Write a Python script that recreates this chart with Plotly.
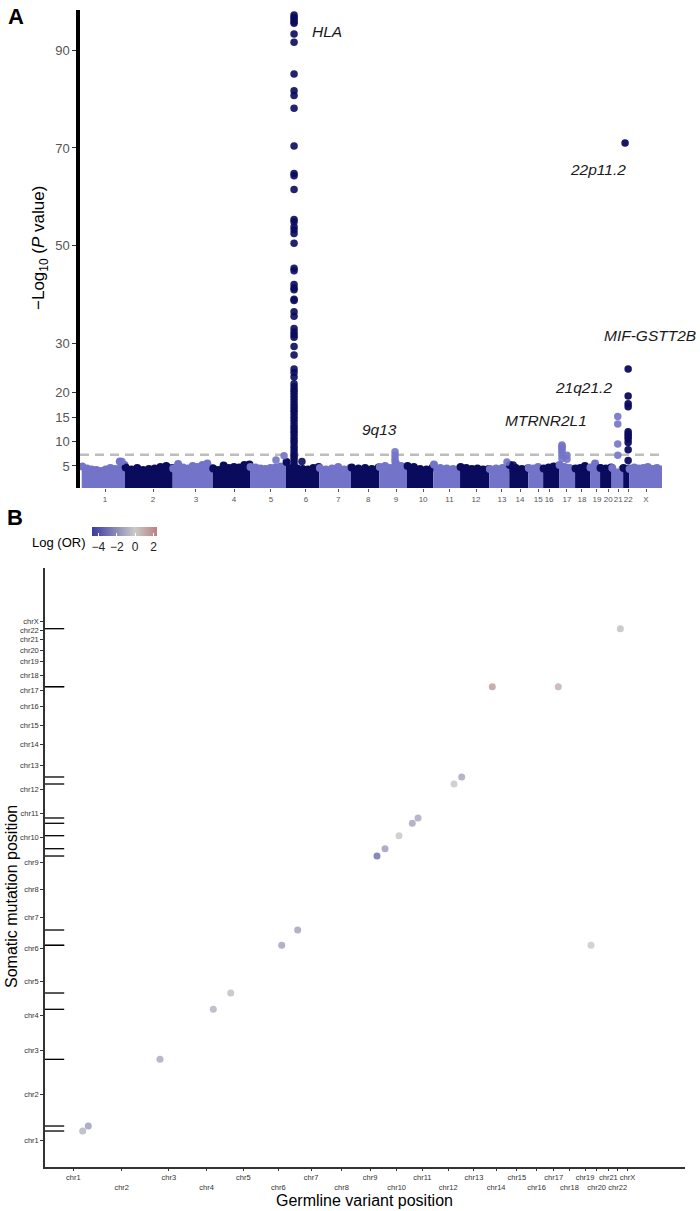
import numpy as np
import plotly.graph_objects as go

FONT = "Liberation Sans, Arial, Helvetica, sans-serif"
LIGHT = "#7373c9"
DARK = "#0b0b5d"

# ---------------- Panel A data (Manhattan) ----------------
chrom_labels_a = [str(i) for i in range(1, 23)] + ["X"]
# start of each chromosome block on the cumulative axis (arbitrary genome units)
chrom_starts = [9, 234, 482, 690, 884, 1071, 1244, 1409, 1556, 1700, 1837, 1976,
                2128, 2232, 2331, 2408, 2491, 2574, 2652, 2704, 2764, 2824, 2855]
genome_end = 3026
chrom_ticks_a = [130, 380, 603, 801, 993, 1175, 1342, 1498, 1643, 1784, 1921, 2059,
                 2194, 2288, 2382, 2439, 2532, 2610, 2688, 2746, 2798, 2850, 2943]

# upper envelope of the dense background of SNPs (-log10 P), per chromosome
env_1 = [4.9, 4.5, 4.3, 4.2, 4.0, 4.3, 4.6, 4.4, 5.9, 5.2]
env_2 = [4.7, 4.3, 4.6, 4.2, 4.4, 4.5, 4.8, 5.0, 4.6]
env_3 = [4.5, 5.4, 4.7, 4.5, 5.0, 4.8, 5.2, 5.5, 4.6]
env_4 = [4.5, 4.2, 5.1, 4.6, 4.8, 4.7, 5.2, 5.3]
env_5 = [4.8, 4.7, 4.5, 4.4, 4.6, 4.7, 4.9, 4.6]
env_6 = [5.8, 4.6, 4.5, 4.4, 4.3, 4.6, 4.8]
env_7 = [4.6, 4.3, 4.5, 4.8, 4.3, 4.6]
env_8 = [4.7, 4.5, 4.6, 4.4, 4.7]
env_9 = [4.8, 5.0, 4.6, 5.6, 5.0, 4.6]
env_10 = [5.0, 4.8, 4.4, 4.3, 4.7]
env_11 = [5.3, 4.6, 4.5, 4.4, 4.5]
env_12 = [4.8, 4.6, 4.4, 4.5, 4.3, 4.4]
env_13 = [4.4, 4.5, 4.6, 4.5]
env_14 = [5.2, 4.6, 4.4, 4.5]
env_15 = [4.6, 4.5, 4.8, 4.4]
env_16 = [4.5, 4.7, 4.9, 5.0]
env_17 = [5.2, 4.8, 4.6, 4.4]
env_18 = [4.5, 4.6, 5.0, 4.4]
env_19 = [4.7, 5.5, 4.6]
env_20 = [4.6, 4.5, 4.7]
env_21 = [4.6, 4.4]
env_22 = [4.6, 4.5]
env_X = [4.4, 4.7, 4.5, 4.6, 4.8, 4.4, 4.6, 4.3]
envelopes = [env_1, env_2, env_3, env_4, env_5, env_6, env_7, env_8, env_9, env_10,
             env_11, env_12, env_13, env_14, env_15, env_16, env_17, env_18, env_19,
             env_20, env_21, env_22, env_X]

# individually visible SNPs above the background
hla_pos = 1113
hla_logp = [97.2, 96.7, 96.3, 95.8, 95.5, 93.3, 91.6, 85.1, 81.7, 80.7, 78.1, 70.4,
            64.8, 64.3, 61.5, 55.4, 54.9, 53.9, 53.3, 52.5, 50.5, 45.4, 44.9, 42.1,
            41.4, 41.0, 39.1, 38.8, 36.5, 35.6, 33.1, 32.4, 31.8, 31.3, 29.4, 27.7,
            24.8, 24.1, 23.2, 21.8, 21.2, 20.6, 20.1, 19.5, 18.9, 18.3, 17.6, 17.0,
            16.4, 15.9, 15.2, 14.6, 14.0, 13.3, 12.7, 12.1, 11.6, 10.9, 10.3, 9.8,
            9.1, 8.5, 7.9, 7.3, 6.8, 6.2, 5.6, 5.0]
chr22_pos = [2834, 2850, 2850, 2850, 2850, 2850, 2850, 2850, 2850, 2850, 2850, 2850]
chr22_logp = [71.0, 24.8, 19.3, 17.7, 17.1, 12.0, 11.5, 11.0, 10.5, 9.8, 8.3, 6.1]
light_pos = [218, 1019, 1061, 1638, 1638, 1638, 1638, 2220, 2506, 2506, 2506, 2506,
             2506, 2506, 2506, 2532, 2532, 2796, 2796, 2796, 2796]
light_logp = [5.9, 6.2, 7.1, 7.9, 7.2, 6.5, 5.9, 5.8, 9.3, 9.0, 8.7, 8.3, 7.8, 7.2,
              6.5, 7.2, 6.4, 15.1, 13.6, 9.5, 7.2]
dark_pos = [1154, 2252]
dark_logp = [5.9, 5.2]
gw_threshold = 7.3

loci_names = ["HLA", "22p11.2", "9q13", "MTRNR2L1", "21q21.2", "MIF-GSTT2B"]
loci_pos = [1196, 2691, 1557, 2421, 2618, 2964]
loci_logp = [93.9, 65.7, 12.4, 14.2, 21.1, 31.6]

# ---------------- Panel B data ----------------
chrom_names_b = ["chr%d" % i for i in range(1, 23)] + ["chrX"]
chrom_mid_b = [124.6, 367.4, 604, 793, 977, 1153, 1317, 1470, 1613, 1746, 1875, 2005,
               2134, 2245, 2349, 2448, 2534, 2613, 2691, 2749, 2808, 2855, 2904]
germline_pos = [171.7, 199.8, 559.4, 826.7, 914.0, 1169.8, 1250.0, 1647.7, 1687.9,
                1758.1, 1824.8, 1853.4, 2033.9, 2072.5, 2226.0, 2557.0, 2721.0, 2868.0]
somatic_pos = [172.9, 199.7, 557.2, 825.3, 912.7, 1168.4, 1250.4, 1647.1, 1686.3,
               1756.0, 1822.5, 1850.9, 2033.1, 2070.7, 2554.8, 2554.8, 1168.4, 2865.7]
log_or = [-0.6, -1.35, -1.0, -0.7, -0.3, -1.25, -1.25, -2.8, -1.35, 0.05, -1.1, -1.0,
          -0.05, -1.1, 1.4, 0.8, 0.0, -0.3]

W, H = 700, 1211


def px_x(p):
    return p / W


def px_y(p):
    return 1 - p / H


fig = go.Figure()

# Panel A background blocks
for i, env in enumerate(envelopes):
    s = chrom_starts[i]
    e = chrom_starts[i + 1] if i + 1 < len(chrom_starts) else genome_end
    col = LIGHT if i % 2 == 0 else DARK
    xs = list(np.linspace(s + 0.12 * (e - s) / len(env), e - 0.12 * (e - s) / len(env), len(env)))
    px = [s] + xs + [e, e, s]
    py = [env[0]] + env + [env[-1], 0, 0]
    fig.add_trace(go.Scatter(x=px, y=py, mode="lines", fill="toself", fillcolor=col,
                             line=dict(color=col, width=0), hoverinfo="skip",
                             showlegend=False, xaxis="x", yaxis="y"))
    fig.add_trace(go.Scatter(x=xs, y=env, mode="markers",
                             marker=dict(color=col, size=8, line=dict(width=0)),
                             hoverinfo="skip", showlegend=False, xaxis="x", yaxis="y"))

fig.add_trace(go.Scatter(x=light_pos, y=light_logp, mode="markers",
                         marker=dict(color=LIGHT, size=7.5, opacity=0.9, line=dict(width=0)),
                         showlegend=False, xaxis="x", yaxis="y"))
fig.add_trace(go.Scatter(x=dark_pos, y=dark_logp, mode="markers",
                         marker=dict(color=DARK, size=7.5, opacity=0.9, line=dict(width=0)),
                         showlegend=False, xaxis="x", yaxis="y"))
fig.add_trace(go.Scatter(x=[hla_pos] * len(hla_logp), y=hla_logp, mode="markers",
                         marker=dict(color=DARK, size=7.5, opacity=0.9, line=dict(width=0)),
                         showlegend=False, xaxis="x", yaxis="y"))
fig.add_trace(go.Scatter(x=chr22_pos, y=chr22_logp, mode="markers",
                         marker=dict(color=DARK, size=7.5, opacity=0.95, line=dict(width=0)),
                         showlegend=False, xaxis="x", yaxis="y"))

# Panel B points
colorscale = [[0.0, "#3a3aa0"], [0.66, "#cacaca"], [1.0, "#bb8080"]]
fig.add_trace(go.Scatter(
    x=germline_pos, y=somatic_pos, mode="markers", xaxis="x2", yaxis="y2", showlegend=False,
    marker=dict(size=7, color=log_or, colorscale=colorscale, cmin=-4.65, cmax=2.4,
                opacity=0.85, line=dict(width=0), showscale=True,
                colorbar=dict(orientation="h", x=px_x(92.3), xanchor="left",
                              y=px_y(527), yanchor="top", lenmode="pixels", len=65.4,
                              thicknessmode="pixels", thickness=9, outlinewidth=0,
                              xpad=0, ypad=0, tickvals=[-4, -2, 0, 2],
                              ticktext=["\u22124", "\u22122", "0", "2"], ticks="inside",
                              tickcolor="white", ticklen=3, tickwidth=1,
                              tickfont=dict(size=12, color="#222", family=FONT)))))

shapes = [dict(type="line", xref="x domain", yref="y", x0=0, x1=1, y0=gw_threshold,
               y1=gw_threshold, line=dict(color="#bdbdbd", width=2.5, dash="9px,6px"),
               layer="below")]
for sp in somatic_pos:
    shapes.append(dict(type="line", xref="x2 domain", yref="y2", x0=0, x1=0.03,
                       y0=sp, y1=sp, line=dict(color="black", width=1.3)))


def ann(text, x, y, size, angle=0, xanchor="center", color="black"):
    return dict(text=text, x=px_x(x), y=px_y(y), xref="paper", yref="paper",
                xanchor=xanchor, yanchor="middle", showarrow=False, textangle=angle,
                font=dict(size=size, color=color, family=FONT))


annotations = [
    ann("<b>A</b>", 16, 16, 22),
    ann("<b>B</b>", 15, 517, 22),
    ann("\u2212Log<sub>10</sub> (<i>P</i> value)", 40, 248, 17, angle=-90),
    ann("Germline variant position", 364, 1200, 16),
    ann("Somatic mutation position", 11, 897, 16, angle=-90),
    ann("Log (OR)", 87, 543, 13, xanchor="right"),
]
for name, xp, yp in zip(loci_names, loci_pos, loci_logp):
    anchor = "left" if name == "HLA" else "center"
    annotations.append(dict(text="<i>%s</i>" % name, x=xp, y=yp, xref="x", yref="y",
                            xanchor=anchor, yanchor="middle", showarrow=False,
                            font=dict(size=15.5, color="#1a1a1a", family=FONT)))

xticktext_b = [n if i % 2 == 0 else "<br>" + n for i, n in enumerate(chrom_names_b)]

fig.update_layout(
    width=W, height=H, margin=dict(l=0, r=0, t=0, b=0),
    paper_bgcolor="white", plot_bgcolor="white",
    font=dict(family=FONT),
    xaxis=dict(domain=[px_x(80), px_x(662)], range=[0, genome_end], anchor="y",
               showline=False, showgrid=False, zeroline=False, ticks="outside",
               ticklen=3, tickcolor="#555", tickvals=chrom_ticks_a, tickangle=0,
               ticktext=chrom_labels_a, tickfont=dict(size=8, color="#555", family=FONT)),
    yaxis=dict(domain=[px_y(488), px_y(10)], range=[0.5, 98.2], anchor="x",
               showline=True, linewidth=3.5, linecolor="black", showgrid=False,
               zeroline=False, ticks="outside", ticklen=4, tickcolor="#333",
               tickvals=[5, 10, 15, 20, 30, 50, 70, 90],
               tickfont=dict(size=13, color="#555", family=FONT)),
    xaxis2=dict(domain=[px_x(45), px_x(685)], range=[-17.3, 3192.4], anchor="y2",
                showline=True, linewidth=1.5, linecolor="#333", showgrid=False,
                zeroline=False, ticks="outside", ticklen=2.5, tickcolor="#333",
                tickvals=chrom_mid_b, ticktext=xticktext_b, tickangle=0,
                tickfont=dict(size=7.5, color="#333", family=FONT)),
    yaxis2=dict(domain=[px_y(1167), px_y(568)], range=[-20, 3191], anchor="x2",
                showline=True, linewidth=1.5, linecolor="#333", showgrid=False,
                zeroline=False, ticks="outside", ticklen=3, tickcolor="#333",
                tickvals=chrom_mid_b, ticktext=chrom_names_b,
                tickfont=dict(size=7.5, color="#333", family=FONT)),
    shapes=shapes, annotations=annotations,
)

fig.write_html(
    "out.html",
    config={"displayModeBar": False},
    post_script=("document.body.style.margin='0px';document.body.style.padding='0px';"
                 "document.body.style.overflow='hidden';"
                 "document.documentElement.style.overflow='hidden';"),
)
